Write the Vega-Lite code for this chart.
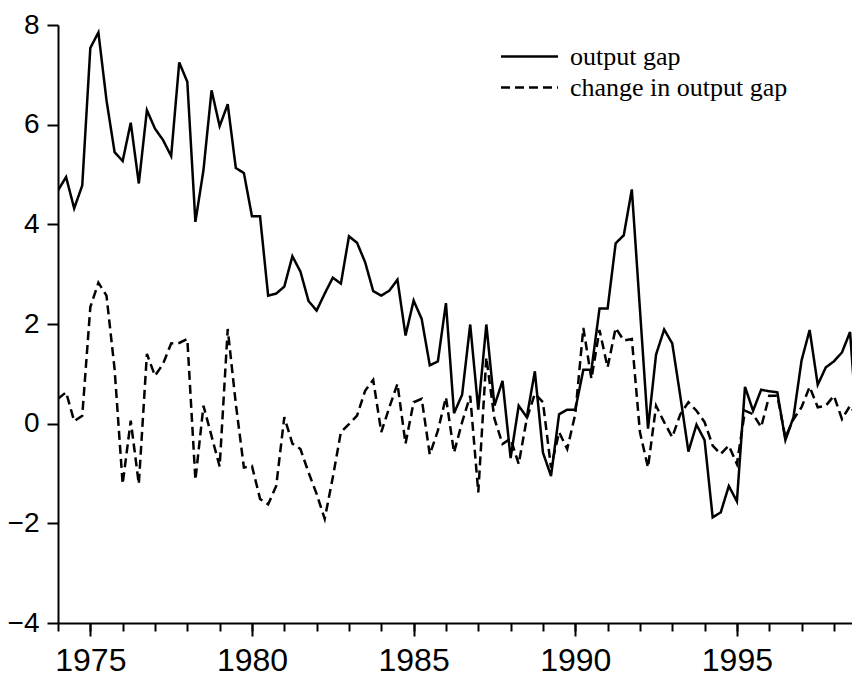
{
  "$schema": "https://vega.github.io/schema/vega-lite/v6.json",
  "width": 794,
  "height": 598,
  "autosize": "none",
  "padding": {"left": 58, "top": 25, "right": 0, "bottom": 54},
  "background": "white",
  "config": {
    "view": {"stroke": null},
    "axis": {"grid": false, "domainColor": "black", "tickColor": "black", "labelColor": "black", "domainWidth": 2, "tickWidth": 2, "title": null}
  },
  "datasets": {
    "q": [
      {"t":1974.00,"gap":4.68,"chg":0.50},{"t":1974.25,"gap":4.95,"chg":0.63},{"t":1974.50,"gap":4.32,"chg":0.05},{"t":1974.75,"gap":4.78,"chg":0.16},
      {"t":1975.00,"gap":7.54,"chg":2.34},{"t":1975.25,"gap":7.85,"chg":2.83},{"t":1975.50,"gap":6.49,"chg":2.57},{"t":1975.75,"gap":5.45,"chg":1.10},
      {"t":1976.00,"gap":5.27,"chg":-1.21},{"t":1976.25,"gap":6.04,"chg":0.06},{"t":1976.50,"gap":4.82,"chg":-1.21},{"t":1976.75,"gap":6.29,"chg":1.40},
      {"t":1977.00,"gap":5.92,"chg":0.96},{"t":1977.25,"gap":5.69,"chg":1.20},{"t":1977.50,"gap":5.37,"chg":1.61},{"t":1977.75,"gap":7.25,"chg":1.62},
      {"t":1978.00,"gap":6.86,"chg":1.70},{"t":1978.25,"gap":4.05,"chg":-1.13},{"t":1978.50,"gap":5.09,"chg":0.36},{"t":1978.75,"gap":6.69,"chg":-0.25},
      {"t":1979.00,"gap":5.97,"chg":-0.86},{"t":1979.25,"gap":6.41,"chg":1.90},{"t":1979.50,"gap":5.13,"chg":0.40},{"t":1979.75,"gap":5.03,"chg":-0.88},
      {"t":1980.00,"gap":4.16,"chg":-0.85},{"t":1980.25,"gap":4.16,"chg":-1.51},{"t":1980.50,"gap":2.57,"chg":-1.62},{"t":1980.75,"gap":2.61,"chg":-1.25},
      {"t":1981.00,"gap":2.75,"chg":0.13},{"t":1981.25,"gap":3.36,"chg":-0.40},{"t":1981.50,"gap":3.05,"chg":-0.51},{"t":1981.75,"gap":2.46,"chg":-0.98},
      {"t":1982.00,"gap":2.27,"chg":-1.41},{"t":1982.25,"gap":2.61,"chg":-1.91},{"t":1982.50,"gap":2.93,"chg":-1.08},{"t":1982.75,"gap":2.81,"chg":-0.17},
      {"t":1983.00,"gap":3.76,"chg":-0.01},{"t":1983.25,"gap":3.63,"chg":0.16},{"t":1983.50,"gap":3.24,"chg":0.66},{"t":1983.75,"gap":2.66,"chg":0.88},
      {"t":1984.00,"gap":2.57,"chg":-0.17},{"t":1984.25,"gap":2.67,"chg":0.33},{"t":1984.50,"gap":2.89,"chg":0.80},{"t":1984.75,"gap":1.77,"chg":-0.40},
      {"t":1985.00,"gap":2.47,"chg":0.43},{"t":1985.25,"gap":2.10,"chg":0.50},{"t":1985.50,"gap":1.17,"chg":-0.62},{"t":1985.75,"gap":1.25,"chg":-0.14},
      {"t":1986.00,"gap":2.42,"chg":0.53},{"t":1986.25,"gap":0.21,"chg":-0.58},{"t":1986.50,"gap":0.58,"chg":0.03},{"t":1986.75,"gap":1.99,"chg":0.56},
      {"t":1987.00,"gap":0.28,"chg":-1.38},{"t":1987.25,"gap":1.99,"chg":1.33},{"t":1987.50,"gap":0.36,"chg":0.10},{"t":1987.75,"gap":0.86,"chg":-0.41},
      {"t":1988.00,"gap":-0.69,"chg":-0.30},{"t":1988.25,"gap":0.36,"chg":-0.81},{"t":1988.50,"gap":0.13,"chg":0.10},{"t":1988.75,"gap":1.05,"chg":0.60},
      {"t":1989.00,"gap":-0.58,"chg":0.43},{"t":1989.25,"gap":-1.05,"chg":-0.88},{"t":1989.50,"gap":0.19,"chg":-0.17},{"t":1989.75,"gap":0.28,"chg":-0.51},
      {"t":1990.00,"gap":0.28,"chg":0.19},{"t":1990.25,"gap":1.08,"chg":1.92},{"t":1990.50,"gap":1.08,"chg":0.90},{"t":1990.75,"gap":2.31,"chg":1.88},
      {"t":1991.00,"gap":2.31,"chg":1.13},{"t":1991.25,"gap":3.62,"chg":1.92},{"t":1991.50,"gap":3.78,"chg":1.67},{"t":1991.75,"gap":4.70,"chg":1.70},
      {"t":1992.00,"gap":2.30,"chg":-0.17},{"t":1992.25,"gap":-0.10,"chg":-0.88},{"t":1992.50,"gap":1.39,"chg":0.36},{"t":1992.75,"gap":1.89,"chg":0.03},
      {"t":1993.00,"gap":1.61,"chg":-0.27},{"t":1993.25,"gap":0.55,"chg":0.19},{"t":1993.50,"gap":-0.56,"chg":0.43},{"t":1993.75,"gap":-0.02,"chg":0.26},
      {"t":1994.00,"gap":-0.33,"chg":0.03},{"t":1994.25,"gap":-1.88,"chg":-0.44},{"t":1994.50,"gap":-1.78,"chg":-0.61},{"t":1994.75,"gap":-1.25,"chg":-0.44},
      {"t":1995.00,"gap":-1.56,"chg":-0.81},{"t":1995.25,"gap":0.74,"chg":0.26},{"t":1995.50,"gap":0.26,"chg":0.19},{"t":1995.75,"gap":0.68,"chg":-0.07},
      {"t":1996.00,"gap":0.65,"chg":0.56},{"t":1996.25,"gap":0.63,"chg":0.56},{"t":1996.50,"gap":-0.33,"chg":-0.28},{"t":1996.75,"gap":0.13,"chg":0.09},
      {"t":1997.00,"gap":1.27,"chg":0.33},{"t":1997.25,"gap":1.88,"chg":0.74},{"t":1997.50,"gap":0.78,"chg":0.33},{"t":1997.75,"gap":1.13,"chg":0.36},
      {"t":1998.00,"gap":1.25,"chg":0.56},{"t":1998.25,"gap":1.43,"chg":0.09},{"t":1998.50,"gap":1.84,"chg":0.36},{"t":1998.75,"gap":-0.40,"chg":0.10}
    ]
  },
  "layer": [
    {
      "data": {"name": "q"},
      "transform": [{"fold": ["gap", "chg"], "as": ["series", "value"]}],
      "mark": {"type": "line", "strokeWidth": 2.5, "color": "black", "clip": true},
      "encoding": {
        "x": {
          "field": "t", "type": "quantitative",
          "scale": {"domain": [1974, 1998.56], "nice": false, "zero": false},
          "axis": {"values": [1975, 1980, 1985, 1990, 1995], "format": "d", "tickSize": 13, "labelPadding": 9, "labelFont": "Liberation Sans", "labelFontSize": 32, "labelBaseline": "top", "orient": "bottom"}
        },
        "y": {
          "field": "value", "type": "quantitative",
          "scale": {"domain": [-4, 8], "nice": false},
          "axis": {"values": [-4, -2, 0, 2, 4, 6, 8], "tickSize": 11, "labelPadding": 8, "labelFont": "Liberation Sans", "labelFontSize": 28}
        },
        "strokeDash": {
          "field": "series", "type": "nominal",
          "scale": {"domain": ["gap", "chg"], "range": [[1, 0], [9, 5]]},
          "legend": {
            "orient": "none", "legendX": 456, "legendY": 16, "title": null, "padding": 0,
            "symbolType": "M-2,0H2", "symbolSize": 812, "symbolStrokeWidth": 2.5, "symbolStrokeColor": "black", "symbolFillColor": "transparent",
            "labelFont": "Liberation Serif", "labelFontSize": 26, "labelColor": "black", "labelOffset": 25, "rowPadding": 2, "labelLimit": 0,
            "labelExpr": "datum.label == 'gap' ? 'output gap' : 'change in output gap'"
          }
        }
      }
    },
    {
      "mark": {"type": "rule", "strokeWidth": 2.5, "color": "black"},
      "encoding": {"y": {"datum": 0}}
    },
    {
      "data": {"name": "q"},
      "mark": {"type": "point", "opacity": 0},
      "encoding": {
        "x": {
          "field": "t", "type": "quantitative",
          "axis": {"values": [1974,1975,1976,1977,1978,1979,1980,1981,1982,1983,1984,1985,1986,1987,1988,1989,1990,1991,1992,1993,1994,1995,1996,1997,1998], "tickSize": 8, "labels": false, "domain": false, "orient": "bottom"}
        },
        "y": {"field": "gap", "type": "quantitative"}
      }
    }
  ],
  "resolve": {"axis": {"x": "independent"}}
}
